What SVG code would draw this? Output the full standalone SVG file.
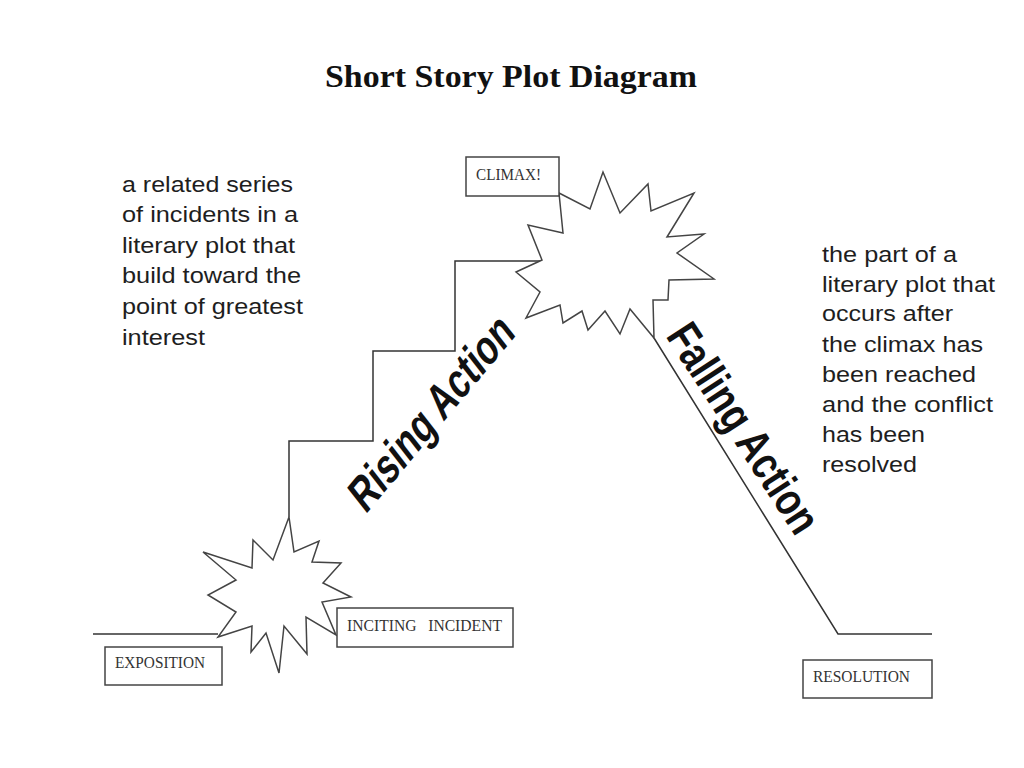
<svg xmlns="http://www.w3.org/2000/svg" width="1024" height="768" viewBox="0 0 1024 768">
<style>
.ln{fill:none;stroke:#333;stroke-width:1.5;stroke-linejoin:miter}
.star{fill:#fff;stroke:#444;stroke-width:1.5;stroke-linejoin:miter}
.box{fill:#fff;stroke:#444;stroke-width:1.5}
.lbl{font-family:"Liberation Serif","Times New Roman",serif;font-size:17px;fill:#333;white-space:pre}
.note{font-family:"Liberation Sans",Arial,sans-serif;font-size:22px;fill:#1e1e1e}
.big{font-family:"Liberation Sans",Arial,sans-serif;font-size:46px;font-weight:bold;fill:#111;text-anchor:middle}
</style>
<rect width="1024" height="768" fill="#fff"/>
<text x="325" y="87" font-family="Liberation Serif,'Times New Roman',serif" font-weight="bold" font-size="31" fill="#111" textLength="372" lengthAdjust="spacingAndGlyphs">Short Story Plot Diagram</text>
<g id="connectors">
<path class="ln" d="M93,634 H218"/>
<path class="ln" d="M289,517 V441 H373 V351 H455 V261 H542"/>
<path class="ln" d="M654,338 L838,634 H932"/>
</g>
<g id="inciting-star">
<polygon class="star" points="289,517 294,552 319,541 312,562 341,563 323,583 351,597 322,602 336,635 306,617 307,654 284,626 279,673 266,633 251,652 252,626 218,637 236,612 208,595 236,580 203,552 252,568 253,540 273,560"/>
</g>
<g id="climax-star">
<polygon class="star" points="559,193 590,209 603,172 620,213 648,184 651,211 694,193 667,237 704,234 677,253 714,279 669,280 668,300 653,300 654,338 630,309 620,334 605,311 588,330 582,311 563,323 560,305 526,318 540,292 516,272 542,260 528,225 563,233"/>
</g>
<g id="climax">
<rect class="box" x="466" y="157" width="93" height="39"/>
<text class="lbl" x="476" y="180" textLength="65" lengthAdjust="spacingAndGlyphs">CLIMAX!</text>
</g>
<g id="inciting-incident">
<rect class="box" x="337" y="608" width="176" height="39"/>
<text class="lbl" x="347" y="631" textLength="155" lengthAdjust="spacingAndGlyphs" xml:space="preserve">INCITING   INCIDENT</text>
</g>
<g id="exposition">
<rect class="box" x="105" y="647" width="117" height="38"/>
<text class="lbl" x="115" y="668" textLength="90" lengthAdjust="spacingAndGlyphs">EXPOSITION</text>
</g>
<g id="resolution">
<rect class="box" x="803" y="660" width="129" height="38"/>
<text class="lbl" x="813" y="682" textLength="97" lengthAdjust="spacingAndGlyphs">RESOLUTION</text>
</g>
<g id="rising-action">
<text class="big" transform="translate(431,412) rotate(-50) skewX(-12)" x="0" y="16" textLength="235" lengthAdjust="spacingAndGlyphs">Rising Action</text>
</g>
<g id="falling-action">
<text class="big" transform="translate(744,428) rotate(57)" x="0" y="16" textLength="240" lengthAdjust="spacingAndGlyphs">Falling Action</text>
</g>
<g id="rising-note" class="note">
<text x="122" y="192" textLength="171" lengthAdjust="spacingAndGlyphs">a related series</text>
<text x="122" y="222" textLength="176" lengthAdjust="spacingAndGlyphs">of incidents in a</text>
<text x="122" y="253" textLength="173" lengthAdjust="spacingAndGlyphs">literary plot that</text>
<text x="122" y="283" textLength="179" lengthAdjust="spacingAndGlyphs">build toward the</text>
<text x="122" y="314" textLength="181" lengthAdjust="spacingAndGlyphs">point of greatest</text>
<text x="122" y="345" textLength="83" lengthAdjust="spacingAndGlyphs">interest</text>
</g>
<g id="falling-note" class="note">
<text x="822" y="262" textLength="135" lengthAdjust="spacingAndGlyphs">the part of a</text>
<text x="822" y="292" textLength="173" lengthAdjust="spacingAndGlyphs">literary plot that</text>
<text x="822" y="321" textLength="131" lengthAdjust="spacingAndGlyphs">occurs after</text>
<text x="822" y="352" textLength="161" lengthAdjust="spacingAndGlyphs">the climax has</text>
<text x="822" y="382" textLength="154" lengthAdjust="spacingAndGlyphs">been reached</text>
<text x="822" y="412" textLength="171" lengthAdjust="spacingAndGlyphs">and the conflict</text>
<text x="822" y="442" textLength="103" lengthAdjust="spacingAndGlyphs">has been</text>
<text x="822" y="472" textLength="95" lengthAdjust="spacingAndGlyphs">resolved</text>
</g>
</svg>
